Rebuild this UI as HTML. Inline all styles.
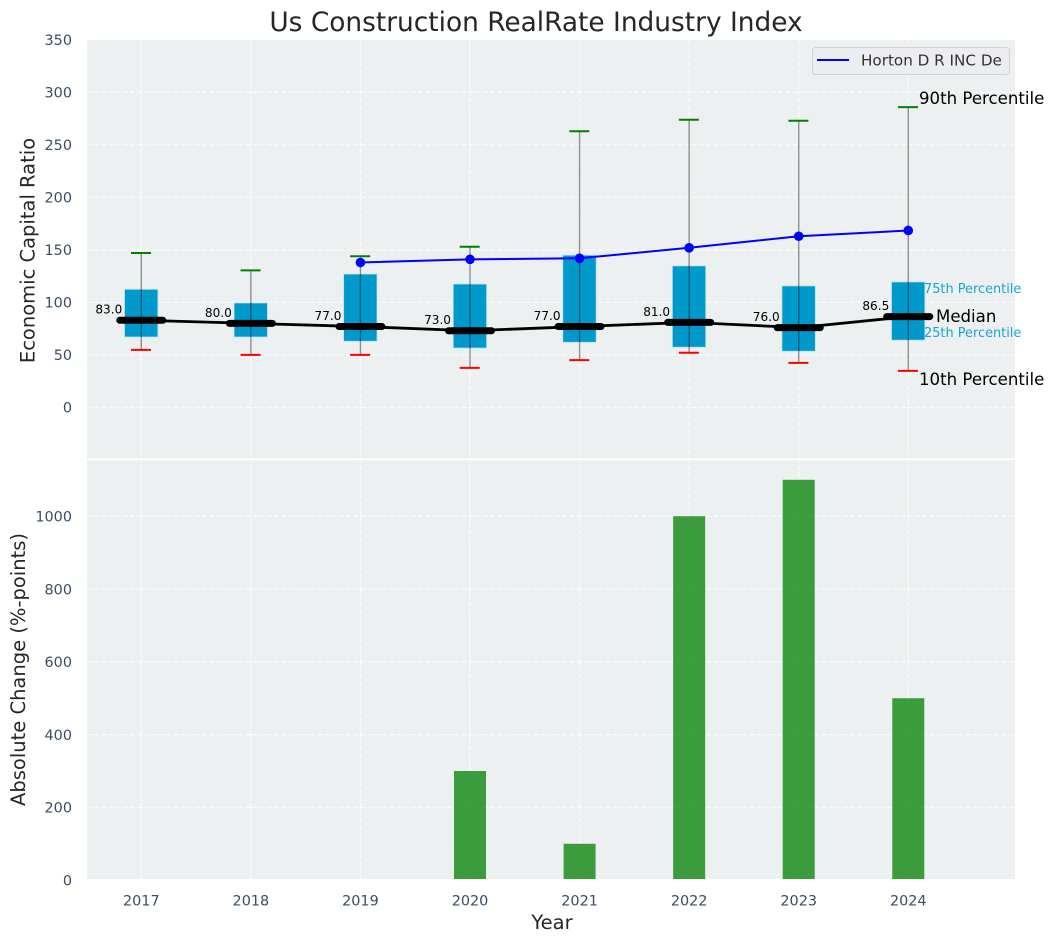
<!DOCTYPE html>
<html lang="en">
<head>
<meta charset="utf-8">
<title>Us Construction RealRate Industry Index</title>
<style>
html,body{margin:0;padding:0;background:#fff;width:1054px;height:942px;overflow:hidden}
svg{display:block;font-family:"DejaVu Sans","Liberation Sans",sans-serif}
.tick{font-size:14.4px;fill:#3a4d63}
.pct-big{font-size:16.6px;fill:#000}
.pct-small{font-size:12.9px;fill:#1ba3d2}
.axis-title{font-size:19.5px;fill:#262626}
.median-label{font-size:12.1px;fill:#000}
</style>
</head>
<body>
<svg id="chart" xmlns="http://www.w3.org/2000/svg" width="1054" height="942" viewBox="0 0 1054 942">
  <rect x="87" y="40" width="928" height="419.5" fill="#ecf0f1"/>
  <rect x="87" y="459.5" width="928" height="420.7" fill="#ecf0f1"/>
  <g id="grid"></g>
  <g id="bars"></g>
  <g id="boxes"></g>
  <g id="whiskers"></g>
  <g id="median-line"></g>
  <g id="company-line"></g>
  <g id="ticks"></g>
  <line x1="87" x2="1015" y1="459.3" y2="459.3" stroke="#fff" stroke-width="2"/>
  <line x1="87" x2="1015" y1="880" y2="880" stroke="#fff" stroke-width="2"/>

  <text x="536" y="31" text-anchor="middle" font-size="26.4" fill="#262626">Us Construction RealRate Industry Index</text>
  <text class="axis-title" transform="translate(34.5,250.5) rotate(-90)" text-anchor="middle">Economic Capital Ratio</text>
  <text class="axis-title" transform="translate(25,669.5) rotate(-90)" text-anchor="middle">Absolute Change (%-points)</text>
  <text class="axis-title" x="552" y="929" text-anchor="middle">Year</text>

  <g>
    <rect x="812.5" y="47.5" width="197" height="27" rx="3" fill="#ecedf1" stroke="#d2d3d6" stroke-width="1"/>
    <line x1="817" x2="849" y1="60" y2="60" stroke="#0000ff" stroke-width="2"/>
    <text x="861" y="65.5" font-size="15.2" fill="#333">Horton D R INC De</text>
  </g>

  <text class="pct-big" x="919" y="104">90th Percentile</text>
  <text class="pct-small" x="924" y="293">75th Percentile</text>
  <text class="pct-big" x="936" y="322">Median</text>
  <text class="pct-small" x="924" y="337">25th Percentile</text>
  <text class="pct-big" x="919" y="385">10th Percentile</text>
</svg>
<script>
var years = ["2017","2018","2019","2020","2021","2022","2023","2024"];
var p90 = [147,130.5,144,153,263,274,273,286];
var p75 = [112.5,99.5,127,117.5,145,134.8,115.7,119.5];
var medians = [83,80,77,73,77,81,76,86.5];
var p25 = [67,67,63,56.5,62,57.3,53.5,64];
var p10 = [54.8,50,50,37.6,45,52,42.4,34.8];
var companyValues = [null,null,138,141,142,152,163,168.5];
var changeValues = [0,0,0,300,100,1000,1100,500];
var topTicks = [0,50,100,150,200,250,300,350];
var bottomTicks = [0,200,400,600,800,1000];

var NS = "http://www.w3.org/2000/svg";
function xPos(i){ return 141.3 + i * 109.57; }
function yTop(v){ return 407.4 - v * 1.05; }
function yBottom(v){ return 880.2 - v * 0.364; }
function make(parent, tag, attrs, text){
  var el = document.createElementNS(NS, tag);
  for (var k in attrs) el.setAttribute(k, attrs[k]);
  if (text !== undefined) el.textContent = text;
  parent.appendChild(el);
  return el;
}
var gridG = document.getElementById("grid");
var barsG = document.getElementById("bars");
var boxesG = document.getElementById("boxes");
var whiskersG = document.getElementById("whiskers");
var medianG = document.getElementById("median-line");
var companyG = document.getElementById("company-line");
var ticksG = document.getElementById("ticks");
var gridStyle = {stroke:"#fff","stroke-width":1.3,"stroke-dasharray":"5 2.2","stroke-opacity":0.75};

function styled(a){ for (var k in gridStyle) a[k] = gridStyle[k]; return a; }

topTicks.forEach(function(t){
  var y = yTop(t);
  if (t < 350) {
    var g = make(gridG, "line", styled({x1:87,x2:1015,y1:y,y2:y}));
    
    
  }
  var l = make(ticksG, "text", {"class":"tick",x:72,y:y+5.3,"text-anchor":"end"}, String(t));
  
  
});
bottomTicks.forEach(function(t){
  var y = yBottom(t);
  if (t > 0) {
    var g = make(gridG, "line", styled({x1:87,x2:1015,y1:y,y2:y}));
    
    
  }
  var l = make(ticksG, "text", {"class":"tick",x:72,y:y+5.3,"text-anchor":"end"}, String(t));
  
  
});
years.forEach(function(year, i){
  var x = xPos(i);
  var g = make(gridG, "line", styled({x1:x,x2:x,y1:40,y2:880}));
  
  
  var l = make(ticksG, "text", {"class":"tick",x:x,y:905.5,"text-anchor":"middle"}, year);
  
  

  if (changeValues[i] > 0) {
    var bar = make(barsG, "rect", {x:x-16,width:32,y:yBottom(changeValues[i]),height:yBottom(0)-yBottom(changeValues[i]),fill:"#008000","fill-opacity":0.75});
    
    
  }

  var box = make(boxesG, "rect", {x:x-16.8,width:33.4,y:yTop(p75[i]),height:yTop(p25[i])-yTop(p75[i]),fill:"#0099cc",stroke:"#bfe3ef","stroke-width":0.8});
  
  

  var w = make(whiskersG, "line", {x1:x,x2:x,y1:yTop(p90[i]),y2:yTop(p10[i]),stroke:"#000","stroke-opacity":0.42,"stroke-width":1.4});
  
  
  var capHigh = make(whiskersG, "line", {x1:x-10.3,x2:x+9.7,y1:yTop(p90[i]),y2:yTop(p90[i]),stroke:"#008000","stroke-width":2});
  
  
  var capLow = make(whiskersG, "line", {x1:x-10.3,x2:x+9.7,y1:yTop(p10[i]),y2:yTop(p10[i]),stroke:"#ff0000","stroke-width":2});
  
  
});

var medianPts = medians.map(function(v,i){ return xPos(i) + "," + yTop(v); }).join(" ");
var medianPoly = make(medianG, "polyline", {points:medianPts,fill:"none",stroke:"#000","stroke-width":2.8});


medians.forEach(function(v,i){
  var x = xPos(i), y = yTop(v);
  var seg = make(medianG, "line", {x1:x-21.5,x2:x+21.5,y1:y,y2:y,stroke:"#000","stroke-width":7,"stroke-linecap":"round"});
  
  
  var lab = make(medianG, "text", {"class":"median-label",x:x-19,y:y-6.6,"text-anchor":"end"}, v.toFixed(1));
  
  
});

var companyPts = [];
companyValues.forEach(function(v,i){ if (v !== null) companyPts.push(xPos(i) + "," + yTop(v)); });
var companyPoly = make(companyG, "polyline", {points:companyPts.join(" "),fill:"none",stroke:"#0000ff","stroke-width":2});


companyValues.forEach(function(v,i){
  if (v === null) return;
  var dot = make(companyG, "circle", {cx:xPos(i),cy:yTop(v),r:4.8,fill:"#0000ff"});
  
  
});
</script>
</body>
</html>
